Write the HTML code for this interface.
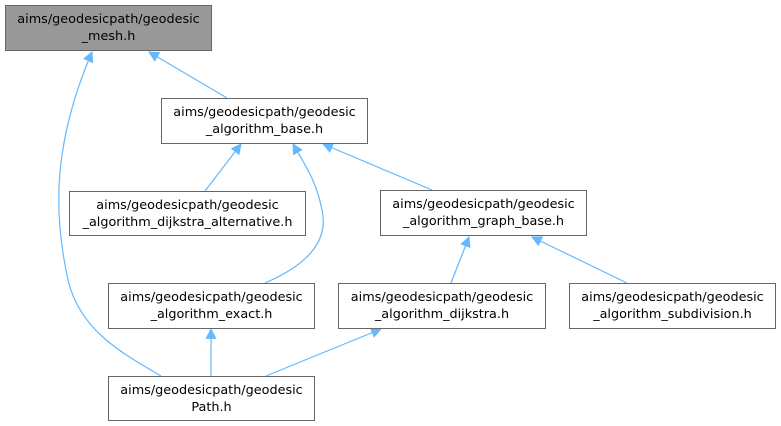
<!DOCTYPE html>
<html><head><meta charset="utf-8"><style>
html,body{margin:0;padding:0;background:#fff;width:781px;height:426px;overflow:hidden}
text{font-family:"DejaVu Sans","Liberation Sans",sans-serif;font-size:12.8px;fill:#000}
</style></head><body>
<svg width="781" height="426" viewBox="0 0 781 426" xmlns="http://www.w3.org/2000/svg">
<defs><marker id="a" viewBox="0 0 10 10" refX="9" refY="5" markerWidth="11" markerHeight="11" markerUnits="userSpaceOnUse" orient="auto"><path d="M0,0L10,5L0,10z" fill="#63b8ff"/></marker></defs>
<g fill="none" stroke="#63b8ff" stroke-width="1.2" marker-end="url(#a)">
<path d="M227,98 L149,52"/>
<path d="M161,376 C120,352 80,330 68,280 C55,220 50,150 92,52"/>
<path d="M205,191 L241,144"/>
<path d="M265,283 C300,268 330,245 322,210 C316,180 305,165 293,144"/>
<path d="M432,190 L323,144"/>
<path d="M451,283 L469,237"/>
<path d="M627,283 L532,237"/>
<path d="M211,376 L211,329"/>
<path d="M266,376 L381,329"/>
</g>
<g stroke="#666" stroke-width="1">
<rect x="5.5" y="5.5" width="206" height="45" fill="#999"/>
<rect x="161.5" y="98.5" width="206" height="45" fill="#fff"/>
<rect x="69.5" y="191.5" width="236" height="44" fill="#fff"/>
<rect x="380.5" y="190.5" width="206" height="45" fill="#fff"/>
<rect x="108.5" y="283.5" width="206" height="45" fill="#fff"/>
<rect x="338.5" y="283.5" width="207" height="45" fill="#fff"/>
<rect x="569.5" y="283.5" width="206" height="45" fill="#fff"/>
<rect x="108.5" y="376.5" width="206" height="44" fill="#fff"/>
</g>
<g text-anchor="middle">
<text x="108.5" y="23">aims/geodesicpath/geodesic</text><text x="108.5" y="40">_mesh.h</text>
<text x="264.5" y="116">aims/geodesicpath/geodesic</text><text x="264.5" y="133">_algorithm_base.h</text>
<text x="187.5" y="209">aims/geodesicpath/geodesic</text><text x="187.5" y="226">_algorithm_dijkstra_alternative.h</text>
<text x="483.5" y="208">aims/geodesicpath/geodesic</text><text x="483.5" y="225">_algorithm_graph_base.h</text>
<text x="211.5" y="301">aims/geodesicpath/geodesic</text><text x="211.5" y="318">_algorithm_exact.h</text>
<text x="442" y="301">aims/geodesicpath/geodesic</text><text x="442" y="318">_algorithm_dijkstra.h</text>
<text x="672.5" y="301">aims/geodesicpath/geodesic</text><text x="672.5" y="318">_algorithm_subdivision.h</text>
<text x="211.5" y="394">aims/geodesicpath/geodesic</text><text x="211.5" y="411">Path.h</text>
</g>
</svg>
</body></html>
